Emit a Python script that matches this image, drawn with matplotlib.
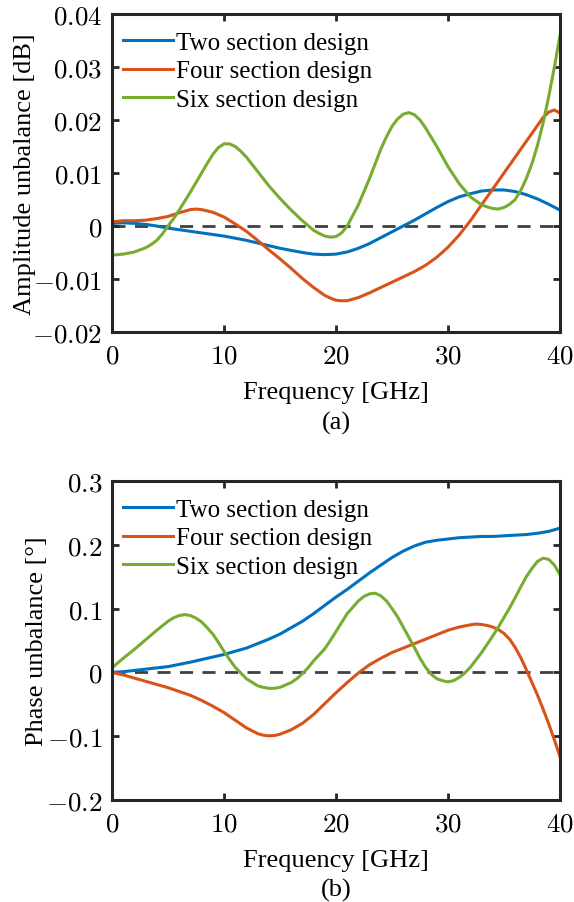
import numpy as np
import matplotlib
matplotlib.use('Agg')
import matplotlib.pyplot as plt
from matplotlib.ticker import FuncFormatter

plt.rcParams['font.family'] = ['Liberation Serif', 'DejaVu Serif']
plt.rcParams['mathtext.fontset'] = 'cm'

# values, frequency in GHz
freq = list(range(0, 41))

# (a) amplitude unbalance [dB]
amp_two = [0.0005, 0.0006, 0.0005, 0.0003, 0.0000, -0.0004, -0.0007, -0.0010, -0.0013, -0.0016,
           -0.0019, -0.0023, -0.0027, -0.0032, -0.0037, -0.0042, -0.0046, -0.0050, -0.0053, -0.0054,
           -0.0053, -0.0049, -0.0042, -0.0033, -0.0022, -0.0011, 0.0000, 0.0011, 0.0023, 0.0035,
           0.0046, 0.0055, 0.0061, 0.0066, 0.0068, 0.0068, 0.0065, 0.0059, 0.0051, 0.0041, 0.0030]

amp_four_f = [0, 1, 2, 3, 4, 5, 6, 7, 7.5, 8, 9, 10, 11, 12, 13, 14, 15, 16, 17, 18, 19, 19.5,
              20, 20.5, 21, 22, 23, 24, 25, 26, 27, 28, 29, 30, 31, 32, 33, 34, 35, 36, 37, 38,
              38.5, 39, 39.5, 40]
amp_four = [0.0008, 0.0010, 0.0010, 0.0011, 0.0014, 0.0018, 0.0025, 0.0031, 0.0032, 0.0031,
            0.0026, 0.0017, 0.0004, -0.0010, -0.0027, -0.0045, -0.0062, -0.0080, -0.0099, -0.0116,
            -0.0131, -0.0136, -0.0140, -0.0141, -0.0141, -0.0135, -0.0126, -0.0116, -0.0106, -0.0096,
            -0.0086, -0.0074, -0.0059, -0.0040, -0.0017, 0.0010, 0.0040, 0.0070, 0.0100, 0.0130,
            0.0160, 0.0190, 0.0205, 0.0215, 0.0219, 0.0213]

amp_six_f = [0, 1, 2, 3, 3.5, 4, 4.5, 5, 5.5, 6, 7, 8, 8.5, 9, 9.5, 10, 10.5, 11, 11.5, 12, 13,
             14, 15, 16, 17, 18, 18.5, 19, 19.5, 20, 20.5, 21, 22, 23, 24, 24.5, 25, 25.5, 26,
             26.5, 27, 27.5, 28, 29, 30, 31, 32, 33, 33.5, 34, 34.5, 35, 35.5, 36, 36.5, 37,
             37.5, 38, 38.5, 39, 39.5, 40]
amp_six = [-0.0055, -0.0053, -0.0049, -0.0041, -0.0035, -0.0027, -0.0015, 0.0000, 0.0014, 0.0030,
           0.0064, 0.0100, 0.0118, 0.0135, 0.0148, 0.0155, 0.0155, 0.0150, 0.0141, 0.0130,
           0.0103, 0.0076, 0.0052, 0.0030, 0.0010, -0.0008, -0.0014, -0.0019, -0.0021, -0.0020,
           -0.0013, 0.0000, 0.0040, 0.0090, 0.0145, 0.0168, 0.0188, 0.0202, 0.0211, 0.0214,
           0.0210, 0.0200, 0.0185, 0.0150, 0.0112, 0.0080, 0.0055, 0.0040, 0.0036, 0.0033,
           0.0032, 0.0035, 0.0041, 0.0050, 0.0067, 0.0090, 0.0118, 0.0153, 0.0195, 0.0245,
           0.0300, 0.0360]

# (b) phase unbalance [deg]
ph_two = [0.000, 0.001, 0.003, 0.005, 0.007, 0.009, 0.0125, 0.016, 0.020, 0.024,
          0.028, 0.033, 0.038, 0.045, 0.052, 0.060, 0.070, 0.080, 0.092, 0.105,
          0.118, 0.130, 0.143, 0.156, 0.168, 0.180, 0.190, 0.198, 0.204, 0.207,
          0.209, 0.211, 0.212, 0.213, 0.213, 0.214, 0.215, 0.216, 0.218, 0.221, 0.226]

ph_four_f = [0, 1, 2, 3, 4, 5, 6, 7, 8, 9, 10, 11, 12, 13, 13.5, 14, 14.5, 15, 16, 17, 18, 19,
             20, 21, 22, 23, 24, 25, 26, 27, 28, 29, 30, 31, 32, 32.5, 33, 33.5, 34, 34.5, 35,
             35.5, 36, 36.5, 37, 37.5, 38, 38.5, 39, 39.5, 40]
ph_four = [0.000, -0.004, -0.009, -0.014, -0.019, -0.024, -0.030, -0.036, -0.044, -0.053,
           -0.063, -0.075, -0.087, -0.096, -0.0985, -0.0995, -0.099, -0.097, -0.090, -0.080,
           -0.066, -0.049, -0.032, -0.016, -0.001, 0.012, 0.022, 0.031, 0.038, 0.045,
           0.052, 0.059, 0.066, 0.071, 0.0745, 0.0757, 0.075, 0.0735, 0.071, 0.067,
           0.061, 0.052, 0.039, 0.023, 0.004, -0.016, -0.036, -0.058, -0.081, -0.106, -0.132]

ph_six_f = [0, 1, 2, 3, 4, 5, 5.5, 6, 6.5, 7, 7.5, 8, 8.5, 9, 9.5, 10, 10.5, 11, 12, 13, 13.5,
            14, 14.5, 15, 16, 16.5, 17, 17.5, 18, 19, 19.5, 20, 20.5, 21, 22, 22.5, 23, 23.5,
            24, 24.5, 25, 25.5, 26, 26.5, 27, 27.5, 28, 28.5, 29, 29.5, 30, 30.5, 31, 31.5,
            32, 33, 33.5, 34, 34.5, 35, 35.5, 36, 36.5, 37, 37.5, 38, 38.5, 39, 39.5, 40]
ph_six = [0.007, 0.022, 0.036, 0.051, 0.066, 0.080, 0.0855, 0.089, 0.0905, 0.089,
          0.085, 0.079, 0.070, 0.060, 0.047, 0.033, 0.020, 0.008, -0.010, -0.021,
          -0.0235, -0.025, -0.025, -0.0235, -0.016, -0.010, -0.002, 0.007, 0.018, 0.037,
          0.050, 0.064, 0.078, 0.092, 0.112, 0.119, 0.123, 0.124, 0.120, 0.112,
          0.100, 0.087, 0.071, 0.055, 0.039, 0.022, 0.008, -0.003, -0.010, -0.013,
          -0.015, -0.013, -0.008, -0.001, 0.008, 0.031, 0.044, 0.057, 0.071, 0.086,
          0.101, 0.117, 0.134, 0.150, 0.163, 0.174, 0.179, 0.177, 0.168, 0.153]

labels = ['Two section design', 'Four section design', 'Six section design']
colors = ['#0072BD', '#D95319', '#77AC30']
edge = '#262626'


def style_axes(ax, ylim, yticks, ylabel, ycoord):
    ax.set_xlim(0, 40)
    ax.set_ylim(*ylim)
    ax.set_xticks([0, 10, 20, 30, 40])
    ax.set_yticks(yticks)
    fmt = FuncFormatter(lambda v, p: '$%g$' % round(v, 4))
    ax.xaxis.set_major_formatter(fmt)
    ax.yaxis.set_major_formatter(fmt)
    ax.tick_params(direction='in', length=5, width=2, color=edge, labelsize=19.5,
                   top=True, right=True)
    ax.tick_params(axis='y', pad=7)
    ax.tick_params(axis='x', pad=8)
    for s in ax.spines.values():
        s.set_linewidth(2.2)
        s.set_color(edge)
    ax.set_xlabel('Frequency [GHz]', fontsize=19, labelpad=9)
    ax.set_ylabel(ylabel, fontsize=19)
    ax.yaxis.set_label_coords(ycoord, 0.5)
    ax.legend(loc='upper left', frameon=False, fontsize=18, handlelength=2.0,
              handletextpad=0.12, labelspacing=0.24, borderaxespad=0.3,
              bbox_to_anchor=(-0.014, 1.0))


fig = plt.figure(figsize=(5.74, 9.03), dpi=100)
ax1 = fig.add_axes([0.1951, 0.6312, 0.7805, 0.3522])
ax2 = fig.add_axes([0.1951, 0.1130, 0.7805, 0.3533])

dash = (0, (4.7, 3.4))

series_a = [(freq, amp_two), (amp_four_f, amp_four), (amp_six_f, amp_six)]
for (xs, ys), lab, c in zip(series_a, labels, colors):
    ax1.plot(xs, ys, color=c, lw=2.2, label=lab, solid_joinstyle='round')
ax1.axhline(0, color='#404040', lw=2.0, ls=dash, zorder=1)
style_axes(ax1, (-0.02, 0.04), [-0.02, -0.01, 0, 0.01, 0.02, 0.03, 0.04],
           'Amplitude unbalance [dB]', -0.169)

series_b = [(freq, ph_two), (ph_four_f, ph_four), (ph_six_f, ph_six)]
for (xs, ys), lab, c in zip(series_b, labels, colors):
    ax2.plot(xs, ys, color=c, lw=2.2, label=lab, solid_joinstyle='round')
ax2.axhline(0, color='#404040', lw=2.0, ls=dash, zorder=1)
style_axes(ax2, (-0.2, 0.3), [-0.2, -0.1, 0, 0.1, 0.2, 0.3],
           'Phase unbalance [°]', -0.142)

fig.text(0.5854, 1 - 423 / 903, '(a)', ha='center', va='center', fontsize=19)
fig.text(0.5854, 1 - 890 / 903, '(b)', ha='center', va='center', fontsize=19)

fig.savefig('out.png', dpi=100)
